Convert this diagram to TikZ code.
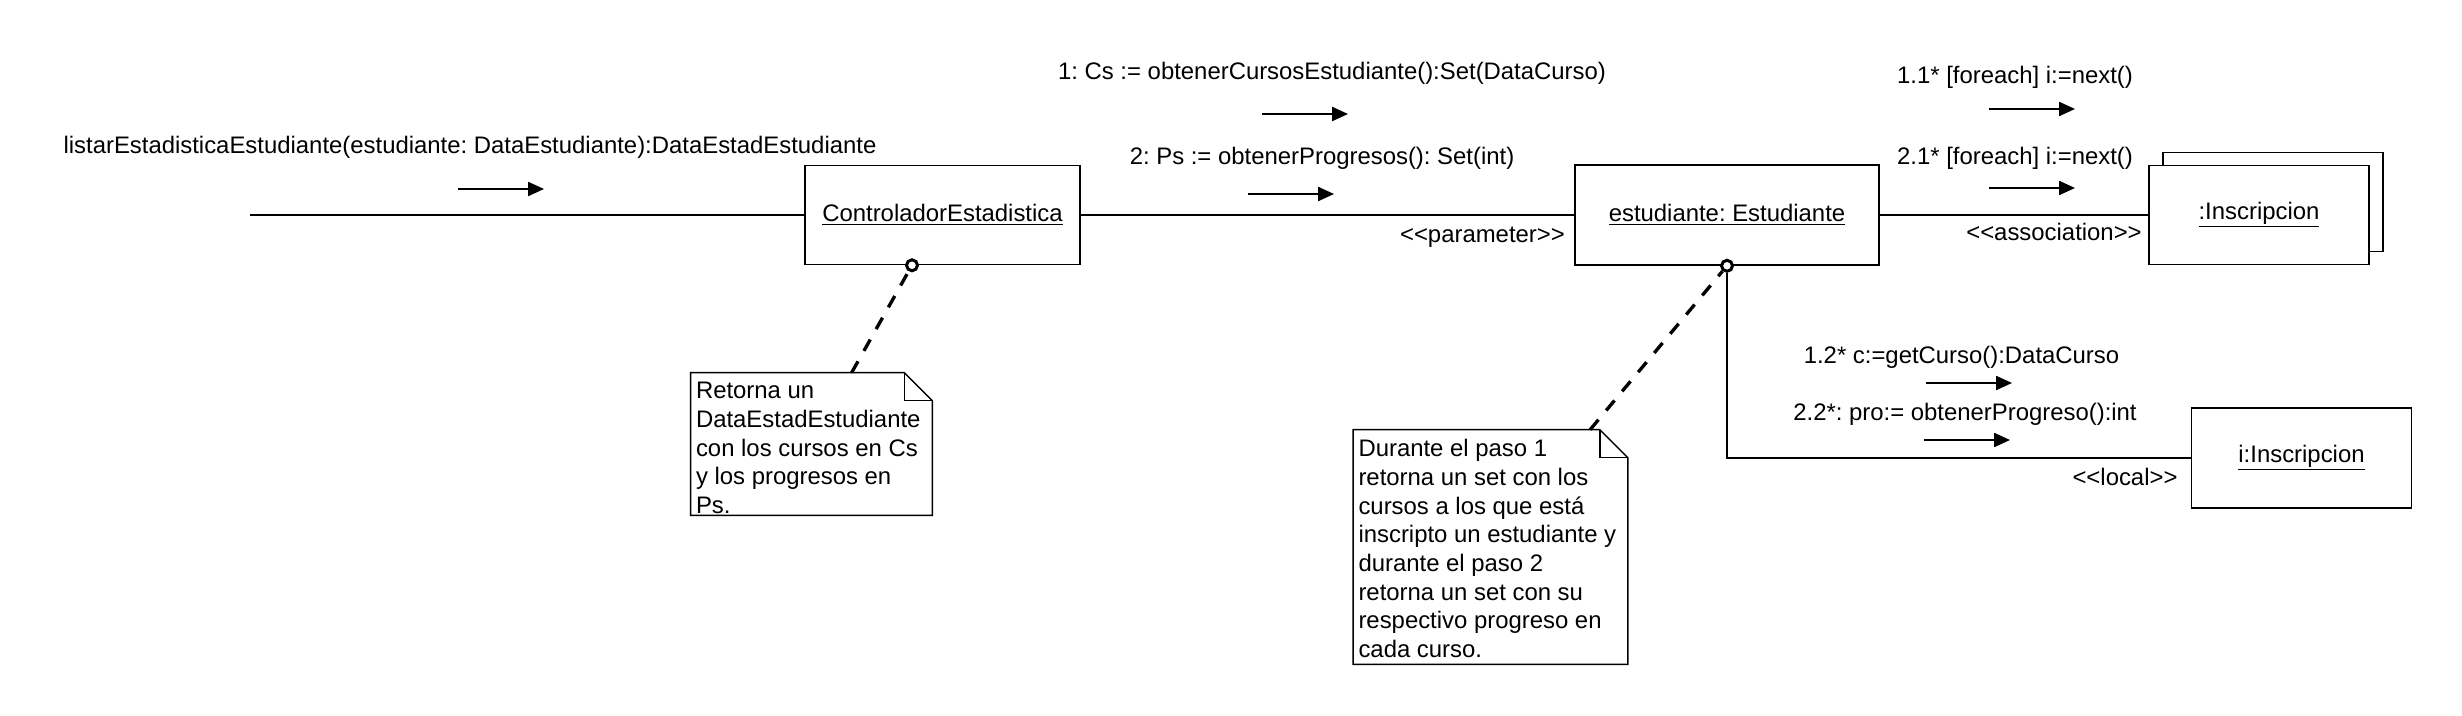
\documentclass[tikz,border=0pt]{standalone}
\usepackage{fontspec}
\setmainfont{Liberation Sans}[Ligatures=TeXOff]
\usetikzlibrary{arrows.meta,positioning}

\tikzset{
  obj/.style={draw, line width=.9pt, fill=white, inner sep=0pt},
  link/.style={line width=.8pt},
  msg/.style={-{Triangle[length=9pt,width=8pt]}, line width=.9pt},
  notebox/.style={inner sep=0pt},
  notetext/.style={align=left, anchor=north west, inner xsep=0.1cm, inner ysep=0.19cm},
  anchorline/.style={dash pattern=on 0.26cm off 0.24cm, line width=1.9pt},
  dot/.style={circle, draw, line width=1.7pt, fill=white, minimum size=0.22cm, inner sep=0pt}
}

\begin{document}
\frenchspacing
\begin{tikzpicture}[x=0.02cm, y=-0.02cm, font=\fontsize{13.6pt}{16.3pt}\selectfont]
\useasboundingbox (0,0) rectangle (2462,716);

% objects
\node[obj, minimum width=5.5cm, minimum height=1.98cm] (ctrl) at (942.5,215) {\underline{ControladorEstadistica}};
\node[obj, minimum width=6.08cm, minimum height=2cm] (est) at (1727,215) {\underline{estudiante: Estudiante}};
\node[obj, minimum width=4.4cm, minimum height=1.98cm] (insb) at (2273,202) {};
\node[obj, minimum width=4.4cm, minimum height=1.98cm] (ins) at (2259,215) {\underline{:Inscripcion}};
\node[obj, minimum width=4.4cm, minimum height=2cm] (inst) at (2301.5,458) {\underline{i:Inscripcion}};
\coordinate (start) at (250,215);

% notes
\node[notebox, minimum width=4.82cm, minimum height=2.84cm] (note1) at (811.5,444) {};
\node[notetext] (note1txt) at (note1.north west) {Retorna un\\DataEstadEstudiante\\con los cursos en Cs\\y los progresos en\\Ps.};
\node[notebox, minimum width=5.48cm, minimum height=4.68cm] (note2) at (1490.5,547) {};
\node[notetext] (note2txt) at (note2.north west) {Durante el paso 1\\retorna un set con los\\cursos a los que está\\inscripto un estudiante y\\durante el paso 2\\retorna un set con su\\respectivo progreso en\\cada curso.};
\foreach \n in {note1,note2} {
  \draw[link] (\n.north west) -- ([xshift=-0.56cm]\n.north east) -- ([yshift=-0.56cm]\n.north east) -- (\n.south east) -- (\n.south west) -- cycle;
  \draw[link] ([xshift=-0.56cm]\n.north east) |- ([yshift=-0.56cm]\n.north east);
}

% links
\node[dot] (d1) at ([xshift=-0.61cm]ctrl.south) {};
\node[dot] (d2) at (est.south) {};
\draw[link] (start) -- (ctrl);
\draw[link] (ctrl) -- (est);
\draw[link] (est) -- (ins);
\draw[link] (d2.south) |- (inst);
\draw[anchorline] ([xshift=3.22cm]note1.north west) -- (d1);
\draw[anchorline] ([xshift=4.74cm]note2.north west) -- (d2);

% messages
\node (call) at (470,147) {listarEstadisticaEstudiante(estudiante: DataEstudiante):DataEstadEstudiante};
\node (m1lbl) at (1332,73) {1: Cs := obtenerCursosEstudiante():Set(DataCurso)};
\node (m2lbl) at (1322,158) {2: Ps := obtenerProgresos(): Set(int)};
\node[anchor=east] (par) at (1571,237) {<<parameter>>};
\node (m11lbl) at (2015,77) {1.1* [foreach] i:=next()};
\node (m21lbl) at (2015,158) {2.1* [foreach] i:=next()};
\node (assoc) at (2054,232) {<<association>>};
\node (m12lbl) at (1961.5,357) {1.2* c:=getCurso():DataCurso};
\node (m22lbl) at (1965,414) {2.2*: pro:= obtenerProgreso():int};
\node (loc) at (2125,477) {<<local>>};

\coordinate (a0) at (458,189);
\coordinate (a1) at (1262,114);
\coordinate (a2) at (1248,194);
\coordinate (a3) at (1989,109);
\coordinate (a4) at (1989,188);
\coordinate (a5) at (1926,383);
\coordinate (a6) at (1924,440);
\foreach \a in {a0,a1,a2,a3,a4,a5,a6}
  \draw[msg] (\a) -- ++(86,0);

\end{tikzpicture}
\end{document}
